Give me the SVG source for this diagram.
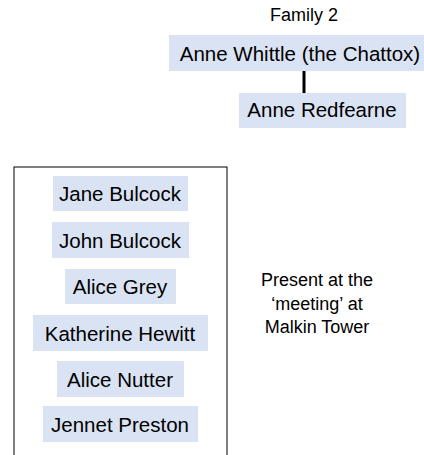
<svg xmlns="http://www.w3.org/2000/svg" width="424" height="455" viewBox="0 0 424 455">
<style>
.box{fill:#dae3f3;stroke:none}
.lbl{font-family:"Liberation Sans",Arial,sans-serif;font-size:20.5px;fill:#000;text-anchor:middle}
.note{font-family:"Liberation Sans",Arial,sans-serif;font-size:18px;fill:#000;text-anchor:middle}
.conn{stroke:#000;stroke-width:3;fill:none}
</style>
<rect width="424" height="455" fill="#fff"/>
<text class="note" x="304" y="21" font-size="17.5">Family 2</text>
<g id="connectors">
<line class="conn" x1="304" y1="71" x2="304" y2="93"/>
</g>
<g id="anne-whittle">
<rect class="box" x="169" y="35" width="256" height="36"/>
<text class="lbl" x="300" y="61">Anne Whittle (the Chattox)</text>
</g>
<g id="anne-redfearne">
<rect class="box" x="239" y="93" width="167" height="35"/>
<text class="lbl" x="322" y="117">Anne Redfearne</text>
</g>
<g id="meeting-group">
<rect x="14" y="167" width="213" height="300" fill="none" stroke="#000" stroke-width="1"/>
</g>
<g id="jane-bulcock">
<rect class="box" x="53" y="176" width="135" height="35"/>
<text class="lbl" x="120" y="201">Jane Bulcock</text>
</g>
<g id="john-bulcock">
<rect class="box" x="52" y="222" width="137" height="36"/>
<text class="lbl" x="120" y="248">John Bulcock</text>
</g>
<g id="alice-grey">
<rect class="box" x="65" y="269" width="111" height="35"/>
<text class="lbl" x="120" y="294">Alice Grey</text>
</g>
<g id="katherine-hewitt">
<rect class="box" x="33" y="315" width="175" height="36"/>
<text class="lbl" x="120" y="341">Katherine Hewitt</text>
</g>
<g id="alice-nutter">
<rect class="box" x="57" y="361" width="127" height="36"/>
<text class="lbl" x="120" y="387">Alice Nutter</text>
</g>
<g id="jennet-preston">
<rect class="box" x="43" y="406" width="155" height="36"/>
<text class="lbl" x="120" y="432">Jennet Preston</text>
</g>
<g id="meeting-note">
<text class="note" x="317" y="286">Present at the</text>
<text class="note" x="317" y="310">‘meeting’ at</text>
<text class="note" x="317" y="333">Malkin Tower</text>
</g>
</svg>
